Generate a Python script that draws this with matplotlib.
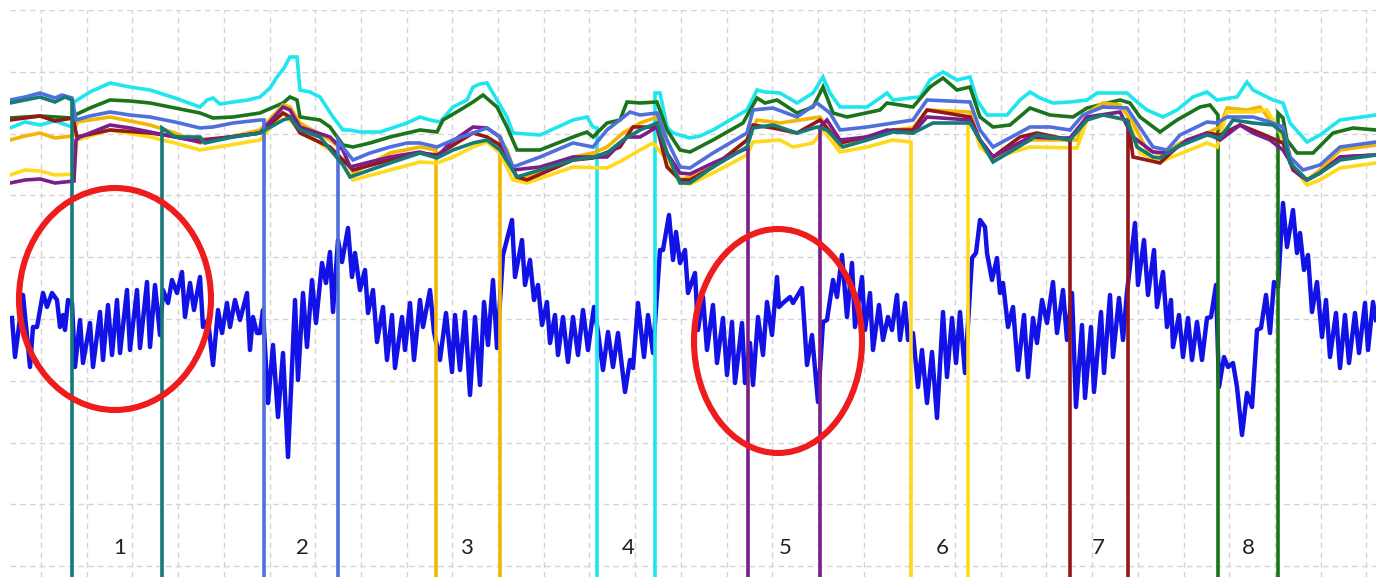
import matplotlib
matplotlib.use("Agg")
import matplotlib.pyplot as plt
from matplotlib.patches import Ellipse

# ---------------- data (sample index, level; level axis runs downward) ----------------
BOTTOM = 600  # off-scale low value used while a channel is "dropped"

cyan_pts = [(10,128),(25,122),(40,125),(55,121),(72,127),(74,102),(90,92),(110,83),(130,87),(150,90),(175,98),(200,107),(207,100),(213,98),(220,104),(233,102),(248,100),(260,97),(270,88),(277,77),(284,68),(290,57),(297,57),(300,90),(310,92),(320,97),(333,117),(343,130),(350,130),(360,132),(380,132),(395,127),(407,123),(420,117),(430,120),(440,122),(453,107),(467,100),(473,87),(480,84),(487,83),(497,100),(507,117),(513,133),(540,135),(560,126),(573,120),(587,117),(593,127),(597,128),(597,BOTTOM),(655,BOTTOM),(655,93),(660,93),(667,127),(673,133),(690,138),(700,136),(713,130),(730,120),(747,110),(757,90),(765,92),(780,93),(797,103),(813,93),(823,77),(830,93),(840,107),(867,107),(880,98),(887,93),(893,100),(910,98),(920,97),(930,80),(943,72),(957,80),(970,77),(977,100),(987,115),(1007,115),(1020,100),(1030,92),(1040,98),(1053,103),(1070,102),(1087,100),(1097,93),(1127,93),(1137,102),(1147,110),(1163,117),(1177,110),(1193,97),(1207,92),(1217,100),(1237,97),(1247,82),(1253,90),(1273,100),(1283,103),(1290,123),(1307,142),(1320,135),(1340,120),(1376,115)]

green_pts = [(10,118),(40,116),(72,118),(75,115),(90,108),(110,100),(130,101),(150,103),(175,108),(200,113),(213,118),(233,117),(260,113),(283,103),(290,97),(297,100),(300,117),(320,120),(330,127),(343,145),(353,147),(370,143),(390,137),(420,130),(437,132),(443,120),(460,110),(473,102),(483,95),(497,107),(507,127),(517,150),(540,150),(573,137),(587,132),(593,137),(607,123),(620,120),(627,102),(640,103),(657,102),(667,130),(680,150),(690,152),(713,140),(743,123),(757,98),(765,103),(777,100),(797,113),(813,107),(823,87),(833,113),(847,117),(880,110),(887,103),(913,107),(930,87),(943,78),(957,90),(970,87),(980,117),(993,127),(1010,125),(1030,108),(1050,115),(1073,117),(1087,108),(1120,100),(1130,103),(1140,117),(1160,132),(1177,120),(1200,107),(1210,105),(1218,115),(1218,BOTTOM),(1278,BOTTOM),(1278,113),(1283,118),(1287,140),(1297,153),(1313,153),(1333,133),(1353,128),(1376,130)]

cornflower_pts = [(10,100),(25,97),(40,93),(55,98),(62,95),(72,98),(76,120),(90,116),(110,112),(130,115),(150,117),(175,122),(200,128),(213,127),(233,123),(260,120),(264,120),(264,BOTTOM),(338,BOTTOM),(338,140),(345,150),(353,160),(370,153),(390,147),(407,143),(420,143),(437,147),(453,140),(473,133),(487,128),(500,137),(513,167),(540,157),(573,143),(593,147),(607,130),(630,112),(640,115),(657,113),(667,140),(680,167),(690,168),(713,153),(747,133),(753,110),(773,108),(797,117),(817,103),(830,113),(840,130),(867,127),(913,120),(927,100),(970,102),(980,130),(993,147),(1030,127),(1050,127),(1070,130),(1083,115),(1103,107),(1127,108),(1137,123),(1153,147),(1167,150),(1180,135),(1207,122),(1217,123),(1227,117),(1253,117),(1270,122),(1283,127),(1290,157),(1303,170),(1320,165),(1340,147),(1376,142)]

purple_pts = [(10,183),(25,180),(40,179),(55,183),(74,181),(76,140),(80,137),(110,125),(130,128),(150,132),(175,137),(200,142),(230,137),(260,133),(283,107),(290,110),(300,127),(330,137),(343,150),(350,167),(370,162),(390,157),(420,152),(437,157),(450,143),(473,127),(487,128),(500,137),(513,170),(540,167),(573,157),(607,157),(627,137),(640,137),(657,127),(667,153),(680,173),(690,174),(713,163),(743,150),(748,148),(748,BOTTOM),(820,BOTTOM),(820,127),(827,120),(840,140),(867,137),(887,130),(913,133),(927,117),(970,120),(980,140),(993,157),(1030,137),(1050,138),(1070,138),(1087,117),(1120,112),(1133,137),(1153,152),(1170,153),(1187,140),(1207,133),(1220,140),(1240,125),(1253,133),(1270,140),(1283,150),(1297,173),(1307,180),(1320,173),(1340,157),(1376,155)]

darkred_pts = [(10,120),(25,118),(40,116),(55,121),(73,118),(77,137),(110,130),(150,133),(200,140),(230,137),(260,133),(283,113),(290,117),(300,133),(330,147),(343,160),(353,170),(390,160),(420,153),(437,155),(473,133),(487,137),(500,145),(517,177),(527,180),(573,160),(593,158),(620,147),(633,127),(657,127),(667,167),(680,180),(690,180),(713,167),(747,140),(753,125),(773,128),(797,133),(820,120),(840,143),(867,137),(893,130),(913,130),(927,110),(940,112),(970,117),(980,140),(993,157),(1020,137),(1037,133),(1070,140),(1070,BOTTOM),(1128,BOTTOM),(1128,120),(1133,157),(1147,160),(1160,163),(1177,147),(1207,133),(1220,135),(1240,125),(1260,133),(1283,143),(1293,170),(1307,180),(1320,173),(1340,157),(1376,155)]

teal_pts = [(10,103),(25,100),(40,97),(55,102),(65,97),(72,100),(72,BOTTOM),(162,BOTTOM),(162,128),(175,137),(200,137),(205,143),(233,137),(260,133),(283,120),(290,118),(300,130),(320,137),(343,165),(350,177),(390,163),(420,153),(437,158),(453,150),(473,143),(487,140),(500,150),(517,177),(540,170),(573,160),(593,157),(607,153),(623,140),(640,130),(657,123),(667,153),(680,183),(690,183),(713,167),(747,147),(753,128),(773,125),(797,133),(817,127),(827,130),(843,147),(867,140),(893,132),(913,133),(933,123),(970,123),(980,140),(993,162),(1030,140),(1037,135),(1070,140),(1087,120),(1103,115),(1127,120),(1137,147),(1153,157),(1160,158),(1177,147),(1207,135),(1220,138),(1233,120),(1253,123),(1273,125),(1283,133),(1290,163),(1307,180),(1320,173),(1340,160),(1376,155)]

gold_pts = [(10,140),(25,136),(40,133),(55,138),(73,136),(77,122),(110,117),(150,125),(175,133),(200,143),(230,137),(260,130),(283,105),(290,107),(300,123),(330,140),(343,150),(353,173),(390,153),(420,147),(436,150),(436,BOTTOM),(500,BOTTOM),(500,140),(507,150),(517,180),(540,173),(573,157),(593,153),(607,147),(623,133),(640,123),(657,117),(667,153),(680,180),(690,177),(713,167),(747,140),(757,120),(780,123),(820,117),(840,147),(867,140),(893,130),(913,128),(927,110),(970,112),(980,143),(993,157),(1030,140),(1077,140),(1087,113),(1103,103),(1120,105),(1133,123),(1147,150),(1163,155),(1180,143),(1207,133),(1220,127),(1227,108),(1247,110),(1260,107),(1270,120),(1283,130),(1293,167),(1307,180),(1320,170),(1340,150),(1376,145)]

yellow_pts = [(10,175),(25,170),(40,171),(55,175),(74,174),(77,140),(110,130),(150,137),(175,143),(200,150),(230,145),(260,140),(283,113),(300,130),(330,150),(340,160),(353,180),(390,170),(420,162),(437,163),(453,157),(473,147),(487,142),(500,153),(513,180),(527,183),(573,167),(607,168),(623,160),(640,150),(653,143),(667,160),(680,183),(690,184),(713,173),(747,155),(753,142),(780,140),(793,147),(813,143),(823,130),(840,152),(867,147),(893,140),(911,142),(911,BOTTOM),(968,BOTTOM),(968,115),(975,130),(980,147),(993,158),(1030,147),(1077,148),(1087,120),(1103,115),(1120,118),(1130,123),(1140,153),(1160,162),(1177,155),(1207,143),(1217,147),(1227,112),(1253,112),(1267,110),(1280,133),(1293,167),(1307,185),(1320,180),(1340,168),(1376,163)]

signal_pts = [(12,318),(15,357),(23,295),(30,367),(33,327),(37,327),(43,293),(47,307),(52,293),(57,300),(60,327),(63,315),(65,330),(68,300),(72,303),(75,367),(80,320),(83,363),(90,323),(93,367),(100,312),(103,360),(108,305),(112,355),(117,300),(120,353),(127,290),(130,350),(137,290),(140,348),(147,282),(150,347),(155,285),(160,335),(163,290),(168,303),(172,280),(177,293),(182,272),(185,317),(190,283),(194,310),(200,277),(203,327),(208,320),(213,365),(218,310),(222,333),(227,303),(230,327),(235,300),(240,320),(247,293),(250,350),(253,317),(257,333),(260,333),(263,310),(268,403),(273,345),(278,417),(283,353),(288,457),(295,300),(298,380),(303,293),(307,347),(312,280),(316,323),(322,263),(326,283),(330,252),(333,312),(338,240),(342,262),(348,228),(352,277),(355,253),(360,290),(365,270),(368,313),(373,290),(377,342),(383,307),(387,360),(392,315),(395,368),(402,317),(405,350),(410,303),(414,360),(420,300),(423,327),(430,290),(434,332),(440,360),(446,313),(452,372),(455,315),(460,370),(465,312),(470,395),(475,317),(480,385),(484,302),(488,345),(493,280),(497,348),(503,255),(512,220),(515,277),(522,240),(525,285),(530,260),(534,300),(538,285),(542,325),(547,302),(550,343),(555,315),(558,355),(563,317),(568,362),(573,317),(578,355),(583,310),(588,350),(594,307),(598,332),(603,370),(608,332),(613,367),(618,333),(625,392),(630,360),(633,368),(638,303),(644,357),(648,315),(653,353),(660,250),(663,250),(669,215),(673,260),(676,232),(680,263),(685,250),(688,293),(695,273),(698,330),(703,297),(707,350),(713,305),(717,363),(723,318),(727,375),(732,322),(735,383),(742,323),(745,383),(750,343),(753,385),(758,317),(763,355),(767,302),(772,335),(777,277),(779,307),(783,303),(790,297),(793,303),(802,288),(807,365),(812,335),(818,402),(823,322),(827,320),(833,280),(837,297),(842,255),(847,317),(852,263),(855,327),(862,277),(865,330),(870,293),(873,350),(879,305),(883,340),(888,317),(892,330),(897,295),(900,340),(905,303),(908,340),(913,333),(918,387),(922,350),(927,403),(932,352),(937,418),(943,312),(947,377),(952,318),(956,363),(960,312),(965,373),(972,258),(976,253),(980,220),(985,227),(987,253),(992,280),(997,258),(1000,293),(1003,283),(1008,327),(1013,307),(1018,370),(1024,315),(1028,377),(1033,318),(1037,343),(1042,300),(1047,323),(1053,282),(1057,333),(1063,290),(1067,340),(1072,293),(1076,407),(1082,325),(1085,398),(1091,327),(1094,392),(1101,312),(1104,373),(1110,295),(1113,357),(1119,298),(1123,340),(1127,292),(1135,223),(1138,285),(1144,240),(1148,295),(1154,250),(1157,307),(1163,272),(1167,327),(1171,300),(1173,347),(1179,315),(1183,357),(1188,318),(1192,360),(1197,322),(1202,360),(1207,318),(1211,317),(1216,285),(1219,387),(1224,357),(1228,367),(1233,363),(1237,387),(1242,435),(1247,393),(1252,407),(1257,330),(1261,328),(1266,295),(1270,333),(1274,282),(1278,287),(1283,203),(1287,247),(1293,210),(1297,253),(1300,233),(1304,270),(1308,255),(1312,312),(1317,282),(1322,337),(1326,300),(1330,357),(1336,313),(1340,368),(1345,315),(1349,363),(1355,313),(1359,353),(1365,303),(1368,350),(1373,302),(1376,320)]

# event labels (number, centre sample)
event_labels = ["1", "2", "3", "4", "5", "6", "7", "8"]
event_centres = [120, 302, 466, 628, 785, 942, 1098, 1248]

# highlighted regions: (centre sample, centre level, width, height)
highlight_ellipses = [(115, 299, 192, 222), (778, 341, 168, 224)]

# grid positions
x_grid = [41 + 45.7 * k for k in range(30)]
y_grid = [10 + 61.8 * k for k in range(10)]

# ---------------- figure ----------------
W, H = 1376, 577
fig = plt.figure(figsize=(W / 100, H / 100), dpi=100)
ax = fig.add_axes([10 / W, 0, (W - 10) / W, (H - 10) / H])
ax.set_xlim(10, W)
ax.set_ylim(H, 10)
for s in ax.spines.values():
    s.set_visible(False)
ax.set_xticks(x_grid)
ax.set_yticks(y_grid)
ax.tick_params(length=0, labelbottom=False, labelleft=False)
ax.grid(True, color="#d4d4d4", linestyle=(0, (4, 3)), linewidth=1.0)
ax.set_axisbelow(True)

series = [
    (cyan_pts, "#1EE6EE"),
    (green_pts, "#1B741B"),
    (gold_pts, "#F2B705"),
    (yellow_pts, "#FFD91C"),
    (darkred_pts, "#951818"),
    (purple_pts, "#7A1E8A"),
    (cornflower_pts, "#4F6FDB"),
    (teal_pts, "#157A78"),
]

ax.plot([p[0] for p in signal_pts], [p[1] for p in signal_pts],
        color="#1212E6", linewidth=3.2, solid_joinstyle="round", zorder=3)

for pts, col in series:
    ax.plot([p[0] for p in pts], [p[1] for p in pts], color=col,
            linewidth=2.6, solid_joinstyle="miter", zorder=4)

for (cx, cy, w, h) in highlight_ellipses:
    ax.add_patch(Ellipse((cx, cy), w, h, fill=False, edgecolor="#EE1C1C",
                         linewidth=4.4, zorder=6))

for lab, xc in zip(event_labels, event_centres):
    ax.text(xc, 548, lab, ha="center", va="center", fontsize=16,
            family="Lato", color="#222222", zorder=7)

fig.savefig("out.png", dpi=100)
